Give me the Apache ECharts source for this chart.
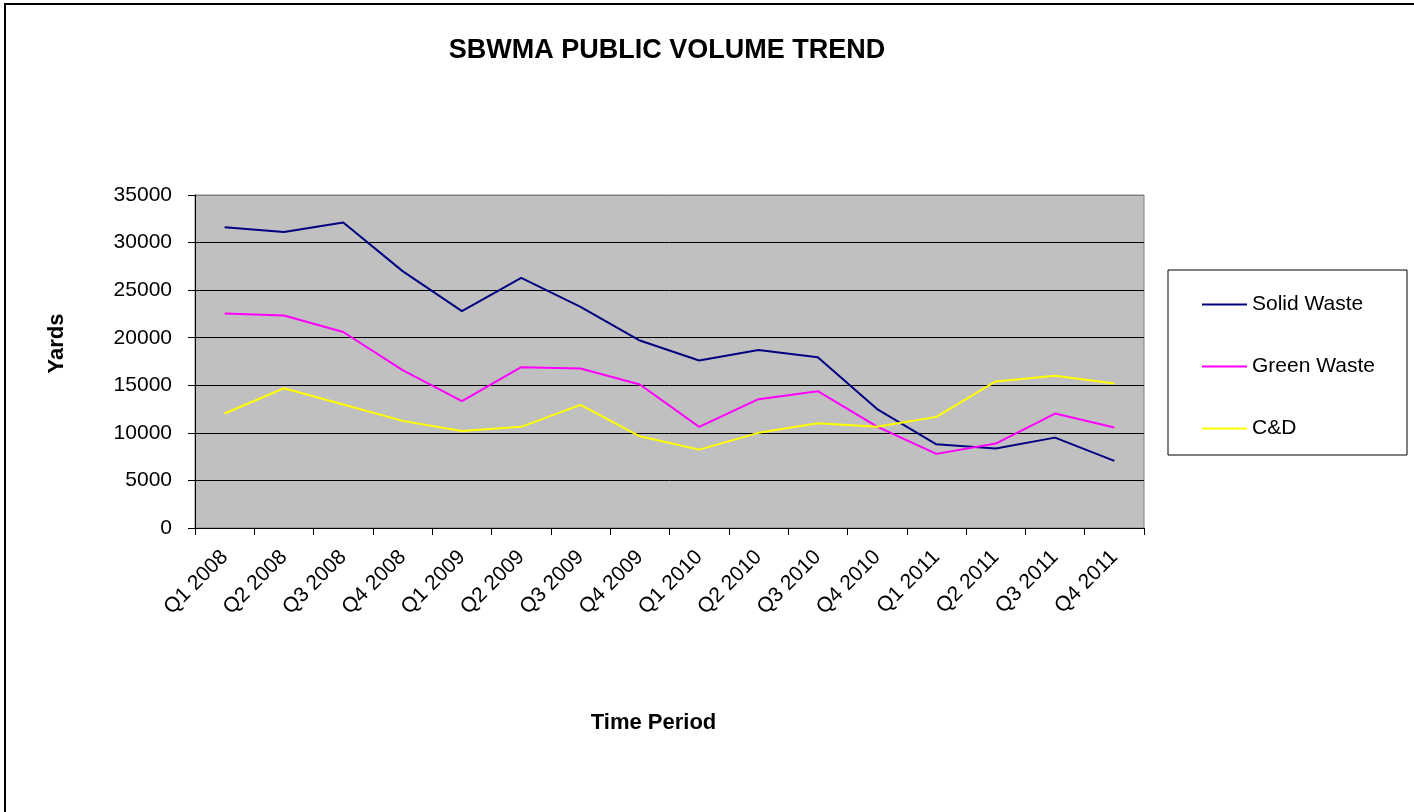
<!DOCTYPE html>
<html>
<head>
<meta charset="utf-8">
<title>SBWMA Public Volume Trend</title>
<script src="https://cdn.jsdelivr.net/npm/echarts@6/dist/echarts.min.js"></script>
<style>
  html, body { margin: 0; padding: 0; background: #fff; }
  #chart { width: 1414px; height: 812px; }
</style>
</head>
<body>
<div id="chart"></div>
<script>
  // quarters on the x axis
  var quarters = ['Q1 2008', 'Q2 2008', 'Q3 2008', 'Q4 2008',
    'Q1 2009', 'Q2 2009', 'Q3 2009', 'Q4 2009',
    'Q1 2010', 'Q2 2010', 'Q3 2010', 'Q4 2010',
    'Q1 2011', 'Q2 2011', 'Q3 2011', 'Q4 2011']

  // yards per quarter
  var solidWaste = [31600, 31100, 32100, 27000, 22800, 26300, 23250, 19700,
    17600, 18700, 17950, 12500, 8800, 8350, 9500, 7050]
  var greenWaste = [22550, 22340, 20600, 16600, 13330, 16900, 16760, 15080,
    10630, 13540, 14380, 10650, 7790, 8870, 12030, 10560]
  var cAndD = [12030, 14690, 12980, 11260, 10200, 10630, 12940, 9640,
    8240, 10000, 11010, 10650, 11680, 15400, 15990, 15190]

  var font = '"Liberation Sans", Arial, sans-serif'

  var chart = echarts.init(document.getElementById('chart'))

  function lineSeries(name, data, color) {
    return {
      name: name,
      type: 'line',
      data: data,
      symbol: 'none',
      color: color,
      lineStyle: { color: color, width: 2 },
      animation: false
    }
  }

  chart.setOption({
    backgroundColor: '#fff',
    textStyle: { fontFamily: font },
    grid: {
      left: 195,
      top: 195,
      right: 270,
      bottom: 284,
      show: true,
      backgroundColor: '#c0c0c0',
      borderColor: '#808080',
      borderWidth: 1
    },
    graphic: [
      {
        type: 'rect',
        shape: { x: 5, y: 4, width: 1500, height: 900 },
        style: { fill: null, stroke: '#000', lineWidth: 2 },
        silent: true
      },
      {
        type: 'rect',
        shape: { x: 1168, y: 270, width: 239, height: 185 },
        style: { fill: '#fff', stroke: '#000', lineWidth: 1 },
        silent: true,
        z: 0
      },
      {
        type: 'text',
        x: 667,
        y: 51,
        style: {
          text: 'SBWMA PUBLIC VOLUME TREND',
          fontFamily: font,
          fontSize: 27,
          fontWeight: 'bold',
          fill: '#000',
          align: 'center',
          verticalAlign: 'middle'
        }
      }
    ],
    legend: {
      orient: 'vertical',
      left: 1197,
      top: 289,
      icon: 'rect',
      itemWidth: 45,
      itemHeight: 2,
      itemGap: 41,
      z: 5,
      textStyle: { fontFamily: font, fontSize: 21, color: '#000' },
      data: ['Solid Waste', 'Green Waste', 'C&D']
    },
    xAxis: {
      type: 'category',
      data: quarters,
      boundaryGap: true,
      name: 'Time Period',
      nameLocation: 'middle',
      nameGap: 184,
      nameTextStyle: {
        fontFamily: font, fontSize: 22, fontWeight: 'bold', color: '#000',
        padding: [0, 32, 0, 0]
      },
      axisLine: { lineStyle: { color: '#000', width: 1 } },
      axisTick: { show: true, length: 7, lineStyle: { color: '#000' } },
      axisLabel: {
        rotate: 45,
        margin: 26,
        interval: 0,
        fontFamily: font,
        fontSize: 21,
        color: '#000'
      },
      splitLine: { show: false }
    },
    yAxis: {
      type: 'value',
      min: 0,
      max: 35000,
      interval: 5000,
      name: 'Yards',
      nameLocation: 'middle',
      nameRotate: 90,
      nameGap: 127,
      nameTextStyle: {
        fontFamily: font, fontSize: 22, fontWeight: 'bold', color: '#000',
        padding: [0, 0, 0, 36]
      },
      axisLine: { show: true, lineStyle: { color: '#000', width: 1 } },
      axisTick: { show: true, length: 7, lineStyle: { color: '#000' } },
      axisLabel: {
        margin: 23,
        fontFamily: font,
        fontSize: 21,
        color: '#000',
        formatter: function (v) { return String(v) }
      },
      splitLine: {
        show: true,
        lineStyle: {
          color: ['#000', '#000', '#000', '#000', '#000', '#000', '#000', '#808080'],
          width: 1
        }
      }
    },
    series: [
      lineSeries('Solid Waste', solidWaste, '#000080'),
      lineSeries('Green Waste', greenWaste, '#ff00ff'),
      lineSeries('C&D', cAndD, '#ffff00')
    ]
  })
</script>
</body>
</html>
